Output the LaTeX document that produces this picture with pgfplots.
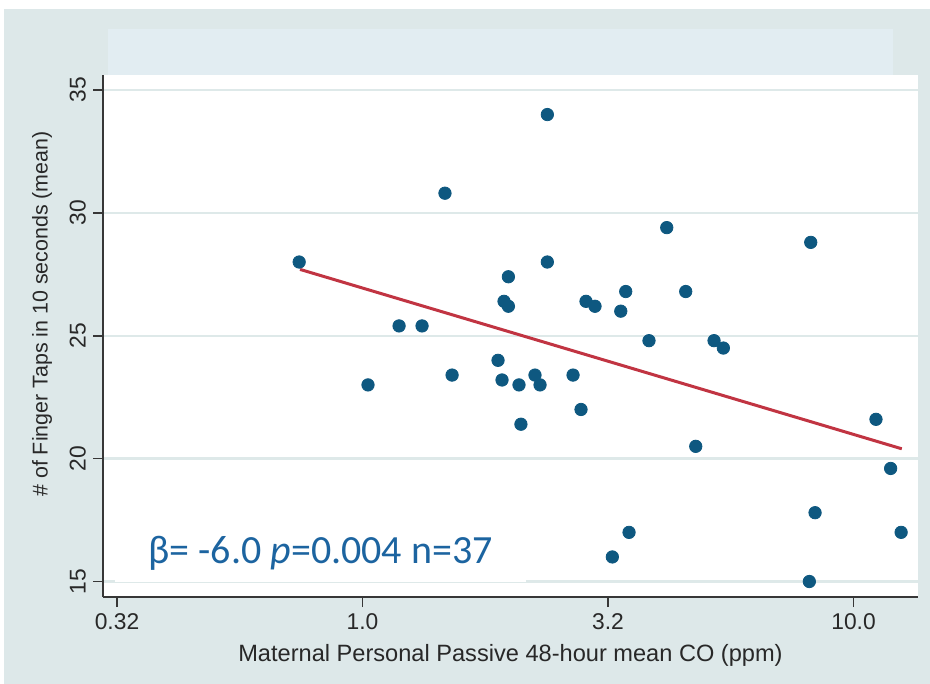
\documentclass[border=0pt]{standalone}
\usepackage{fontspec}
\setmainfont{Liberation Sans}
\newfontfamily\calfont{Carlito}
\usepackage{pgfplots}
\pgfplotsset{compat=1.18}
\definecolor{outerbg}{RGB}{221,232,233}
\definecolor{bandbg}{RGB}{226,237,242}
\definecolor{gridc}{RGB}{222,233,233}
\definecolor{dotc}{RGB}{14,88,128}
\definecolor{linec}{RGB}{193,52,66}
\definecolor{annc}{RGB}{28,100,160}
\definecolor{axc}{RGB}{55,55,55}
\definecolor{txtc}{RGB}{40,40,40}

\pgfplotstableread{
x y
0.743 28.0
1.026 23.0
1.187 25.4
1.322 25.4
1.472 30.8
1.522 23.4
1.888 24.0
1.924 23.2
1.942 26.4
1.982 26.2
1.982 27.4
2.083 23.0
2.102 21.4
2.245 23.4
2.299 23.0
2.379 34.0
2.379 28.0
2.684 23.4
2.786 22.0
2.852 26.4
2.975 26.2
3.227 16.0
3.357 26.0
3.436 26.8
3.490 17.0
3.832 24.8
4.165 29.4
4.552 26.8
4.771 20.5
5.199 24.8
5.431 24.5
8.181 28.8
8.128 15.0
8.349 17.8
11.11 21.6
11.90 19.6
12.50 17.0
}\pts

\begin{document}
\begin{tikzpicture}
\useasboundingbox (0,0) rectangle (465pt,342pt);
\fill[white] (0,0) rectangle (465pt,342pt);
\fill[outerbg] (2pt,0) rectangle (465pt,337.5pt);
\fill[bandbg] (54pt,304.5pt) rectangle (446.5pt,327.5pt);
\begin{axis}[
  at={(51.5pt,43.5pt)}, anchor=south west,
  scale only axis, width=407.5pt, height=261pt,
  xmode=log, log basis x=10,
  xmin=0.2961, xmax=13.53, ymin=14.37, ymax=35.61,
  axis background/.style={fill=white},
  axis x line*=bottom, axis y line*=left,
  axis line style={draw=axc, line width=1pt},
  tick align=outside, major tick length=5pt,
  tick style={draw=axc, line width=0.8pt},
  xtick={0.316227766,1,3.16227766,10},
  xticklabels={0.32,1.0,3.2,10.0},
  log ticks with fixed point,
  ytick={15,20,25,30,35},
  minor tick num=0,
  ymajorgrids, xmajorgrids=false,
  major grid style={draw=gridc, line width=1.2pt},
  /pgf/number format/assume math mode=true,
  ticklabel style={font=\fontsize{11.4}{13}\selectfont, text=txtc},
  yticklabel style={rotate=90},
  xlabel={Maternal Personal Passive 48-hour mean CO (ppm)},
  ylabel={\# of Finger Taps in 10 seconds (mean)},
  xlabel style={font=\fontsize{11.8}{14}\selectfont, text=txtc, at={(axis description cs:0.5,-0.1245)}, anchor=base},
  ylabel style={font=\fontsize{10.7}{13}\selectfont, text=txtc, at={(axis description cs:-0.068,0.542)}, anchor=base, rotate=0},
  clip=false,
]
\addplot[only marks, mark=*, mark size=3.1pt, mark options={fill=dotc, draw=dotc}] table[x=x,y=y] {\pts};
\addplot[linec, line width=1.5pt] coordinates {(0.746,27.7) (12.54,20.4)};
\node[anchor=base west, fill=white, inner xsep=16.5pt, inner ysep=6pt, text=annc,
      font=\calfont\fontsize{20}{24}\selectfont]
  at (rel axis cs:0.0147,0.0651) {β= -6.0 \textit{p}=0.004 n=37};
\end{axis}
\end{tikzpicture}
\end{document}
